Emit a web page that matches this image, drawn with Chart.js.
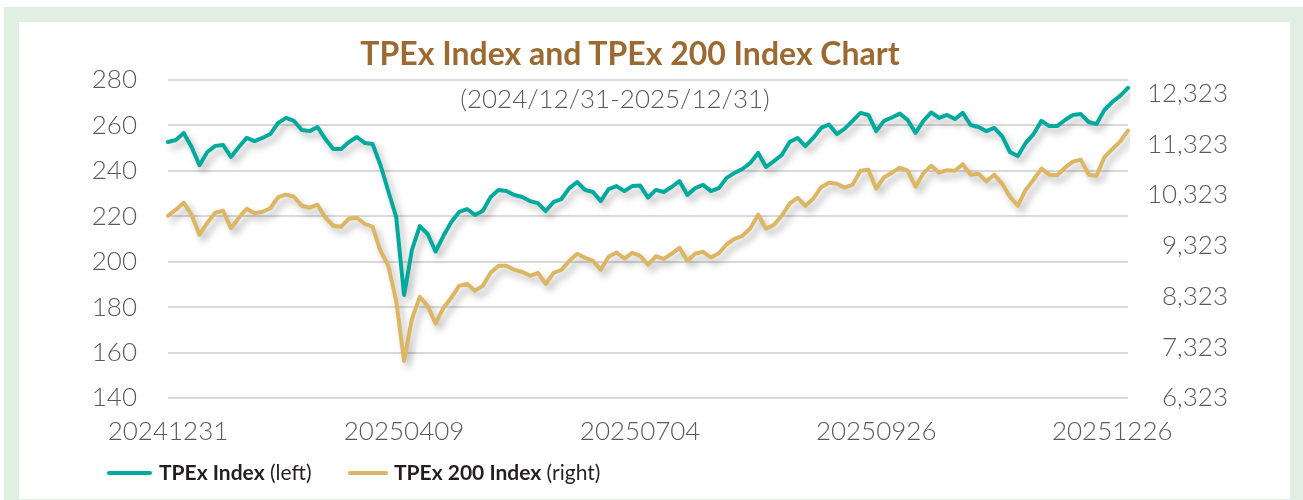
<!DOCTYPE html>
<html>
<head>
<meta charset="utf-8">
<title>TPEx Index and TPEx 200 Index Chart</title>
<script src="https://cdn.jsdelivr.net/npm/chart.js@4.4.1/dist/chart.umd.min.js"></script>
<style>
  html, body { margin: 0; padding: 0; background: #fff; }
  body { width: 1303px; height: 500px; position: relative; overflow: hidden; font-family: Lato, "Open Sans", sans-serif; }
  #frame { position: absolute; left: 4px; top: 7px; width: 1299px; height: 493px; background: #e1eee2; }
  #panel { position: absolute; left: 19px; top: 22px; width: 1271px; height: 477px; background: #fff; }
  #panel canvas { position: absolute; left: 0; top: 0; }
  .title { position: absolute; left: 630px; top: 37px; transform: translateX(-50%); white-space: nowrap;
           font: 700 32px/32px Lato, sans-serif; color: #9b6a33; }
  .subtitle { position: absolute; left: 615px; top: 85px; transform: translateX(-50%); white-space: nowrap;
              font: 300 26px/26px Lato, sans-serif; color: #595959; }
  .legend-line { position: absolute; top: 471px; height: 4px; border-radius: 2px; }
  .legend-text { position: absolute; top: 461px; white-space: nowrap; font: 400 21px/21px Lato, sans-serif; color: #231f20; }
  .legend-text b { font-weight: 700; }
</style>
</head>
<body>
<div id="frame"></div>
<div id="panel"><canvas id="chart" width="1271" height="477"></canvas></div>
<div class="title">TPEx Index and TPEx 200 Index Chart</div>
<div class="subtitle">(2024/12/31-2025/12/31)</div>
<div class="legend-line" style="left:107px;width:45px;background:#00a99d"></div>
<div class="legend-text" style="left:159px"><b>TPEx Index</b> (left)</div>
<div class="legend-line" style="left:348px;width:40px;background:#dcb663"></div>
<div class="legend-text" style="left:394px"><b>TPEx 200 Index</b> (right)</div>

<script>
// --- 데이터 (2거래일 간격으로 읽은 값) ---
const tickIndex = [0, 30, 60, 90, 120];
const tickLabels = ['20241231', '20250409', '20250704', '20250926', '20251226'];

// 왼쪽 축: TPEx Index
const tpexIndex = [
    252.7, 253.6, 256.7, 250.5, 242.5, 248.3, 251.0, 251.4, 246.1, 250.5,
    254.5, 253.1, 254.5, 256.2, 261.1, 263.3, 262.0, 258.0, 257.5, 259.3,
    254.0, 249.6, 249.6, 252.7, 254.9, 252.3, 251.8, 242.6, 231.0, 219.7,
    185.3, 205.2, 215.7, 212.2, 204.5, 211.3, 217.5, 221.9, 223.2, 220.6,
    222.3, 228.5, 231.6, 231.1, 229.4, 228.5, 226.7, 225.8, 222.3, 226.3,
    227.6, 232.4, 235.1, 231.6, 230.7, 226.7, 232.0, 233.3, 231.1, 233.3,
    233.5, 228.2, 231.6, 230.7, 232.9, 235.5, 229.4, 232.4, 233.8, 231.1,
    232.4, 236.9, 239.1, 240.8, 243.5, 247.9, 241.7, 244.3, 247.0, 252.7,
    254.5, 250.9, 254.5, 258.9, 260.4, 256.2, 258.6, 262.0, 265.5, 264.6,
    257.5, 262.0, 263.5, 265.2, 262.4, 256.7, 262.0, 265.7, 263.3, 264.6,
    262.8, 265.5, 260.2, 259.3, 257.5, 258.9, 255.3, 248.3, 246.5, 252.3,
    256.2, 262.0, 259.7, 259.7, 262.4, 264.6, 265.0, 261.5, 260.6, 266.8,
    270.3, 273.0, 276.5
];

// 오른쪽 축: TPEx 200 Index
const tpex200Index = [
    9915, 10034, 10172, 9935, 9540, 9777, 9974, 10014, 9668, 9876,
    10053, 9964, 9994, 10063, 10280, 10330, 10290, 10112, 10073, 10132,
    9876, 9718, 9698, 9856, 9876, 9757, 9698, 9224, 8928, 8237,
    7053, 7882, 8316, 8139, 7790, 8099, 8297, 8533, 8573, 8435,
    8533, 8790, 8928, 8928, 8849, 8810, 8731, 8790, 8573, 8790,
    8849, 9027, 9165, 9086, 9027, 8849, 9106, 9191, 9072, 9185,
    9126, 8948, 9116, 9066, 9165, 9284, 9027, 9165, 9205, 9092,
    9175, 9353, 9461, 9520, 9668, 9935, 9658, 9737, 9915, 10152,
    10270, 10112, 10251, 10478, 10566, 10547, 10468, 10527, 10803, 10823,
    10448, 10675, 10764, 10862, 10803, 10488, 10754, 10902, 10764, 10813,
    10803, 10931, 10724, 10744, 10596, 10724, 10547, 10290, 10112, 10428,
    10626, 10843, 10724, 10714, 10862, 10981, 11020, 10724, 10704, 11070,
    11227, 11376, 11593
];

const rightTicks = [6323, 7323, 8323, 9323, 10323, 11323, 12323];

// x축 라벨: 눈금 위치에만 날짜 표시
const labels = tpexIndex.map((v, i) => {
    const k = tickIndex.indexOf(i);
    return k >= 0 ? tickLabels[k] : '';
});

// 선 아래 그림자
const lineShadow = {
    id: 'lineShadow',
    beforeDatasetDraw(chart) {
        const c = chart.ctx;
        c.save();
        c.shadowColor = 'rgba(0, 0, 0, 0.28)';
        c.shadowBlur = 7;
        c.shadowOffsetX = 4;
        c.shadowOffsetY = 5;
    },
    afterDatasetDraw(chart) {
        chart.ctx.restore();
    }
};

const tickFont = { family: 'Lato', size: 26, weight: 300 };

new Chart(document.getElementById('chart'), {
    type: 'line',
    data: {
        labels: labels,
        datasets: [
            {
                label: 'TPEx Index (left)',
                data: tpexIndex,
                yAxisID: 'y',
                borderColor: '#00a99d',
                borderWidth: 4,
                pointRadius: 0,
                tension: 0,
                borderJoinStyle: 'round',
                borderCapStyle: 'round'
            },
            {
                label: 'TPEx 200 Index (right)',
                data: tpex200Index,
                yAxisID: 'y1',
                borderColor: '#dcb663',
                borderWidth: 4,
                pointRadius: 0,
                tension: 0,
                borderJoinStyle: 'round',
                borderCapStyle: 'round'
            }
        ]
    },
    options: {
        responsive: false,
        animation: false,
        layout: { padding: { left: 20, right: 62, top: 58, bottom: 1 } },
        plugins: { legend: { display: false }, tooltip: { enabled: false } },
        scales: {
            x: {
                grid: { display: false },
                border: { display: false },
                ticks: {
                    autoSkip: false, maxRotation: 0, padding: 10,
                    color: '#595959', font: tickFont,
                    callback: (v, i) => labels[i] || null
                },
                afterFit: (s) => { s.height = 100; }
            },
            y: {
                position: 'left',
                min: 140, max: 280,
                grid: { color: '#d9d9d9', lineWidth: 2, drawTicks: false },
                border: { display: false },
                ticks: { stepSize: 20, padding: 31, color: '#595959', font: tickFont },
                afterFit: (s) => { s.width = 129; }
            },
            y1: {
                position: 'right',
                min: 6323, max: 12590,
                grid: { display: false, drawTicks: false },
                border: { display: false },
                ticks: {
                    crossAlign: 'far', padding: 0, color: '#595959', font: tickFont,
                    callback: (v) => v.toLocaleString('en-US')
                },
                afterBuildTicks: (s) => { s.ticks = rightTicks.map(v => ({ value: v })); },
                afterFit: (s) => { s.width = 100; }
            }
        }
    },
    plugins: [lineShadow]
});
</script>
</body>
</html>
